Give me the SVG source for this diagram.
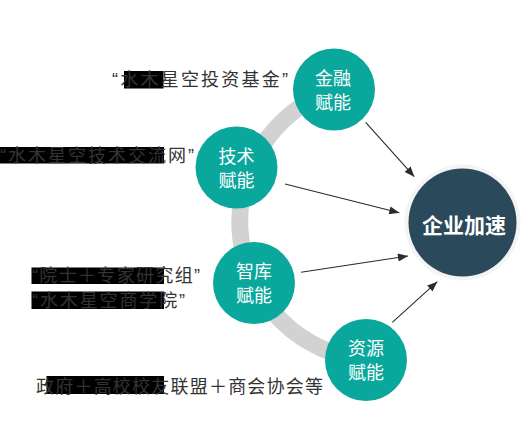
<svg xmlns="http://www.w3.org/2000/svg" width="528" height="446" viewBox="0 0 528 446">
<defs>
<style>
.lbl{font-family:"Liberation Sans","Noto Sans CJK SC",sans-serif;font-size:18px;fill:#333}
.node circle{fill:#0aa79d}
.node text{font-family:"Noto Sans CJK SC",sans-serif;font-size:18px;fill:#fff;text-anchor:middle}
.conn line{stroke:#2b2b2b;stroke-width:1.1;marker-end:url(#ah)}
.blk{fill:#000}
</style>
<marker id="ah" viewBox="0 0 10 8" refX="10" refY="4" markerWidth="11" markerHeight="8" markerUnits="userSpaceOnUse" orient="auto">
<path d="M0,0 L10,4 L0,8 Z" fill="#2b2b2b"/>
</marker>
</defs>
<rect width="528" height="446" fill="#fff"/>
<path d="M334,90 A139,139 0 0 0 366,360" fill="none" stroke="#d2d2d2" stroke-width="17"/>
<g id="labels">
<rect class="blk" x="124" y="71" width="39.5" height="17.5"/>
<text class="lbl" x="112" y="86" textLength="176" lengthAdjust="spacing">“水木星空投资基金”</text>
<rect class="blk" x="0" y="147" width="164" height="16.5"/>
<text class="lbl" x="0" y="162" textLength="194" lengthAdjust="spacing">“水木星空技术交流网”</text>
<rect class="blk" x="31.5" y="267.5" width="132.5" height="16.5"/>
<text class="lbl" x="32" y="282" textLength="168" lengthAdjust="spacing">“院士＋专家研究组”</text>
<rect class="blk" x="31.5" y="291.5" width="132.5" height="17.5"/>
<text class="lbl" x="32" y="307" textLength="153" lengthAdjust="spacing">“水木星空商学院”</text>
<rect class="blk" x="46.5" y="376" width="117.5" height="18"/>
<text class="lbl" x="36" y="393" textLength="287" lengthAdjust="spacing">政府＋高校校友联盟＋商会协会等</text>
</g>
<g class="conn" id="connectors">
<line x1="365.7" y1="122.3" x2="414.3" y2="176.7"/>
<line x1="285" y1="184" x2="399.3" y2="212.7"/>
<line x1="301" y1="272.3" x2="408" y2="256"/>
<line x1="392.3" y1="322.3" x2="437.3" y2="281.7"/>
</g>
<g class="node" id="n-jinrong"><circle cx="334" cy="89.5" r="41"/><text x="333" y="84.5">金融<tspan x="333" dy="24.5">赋能</tspan></text></g>
<g class="node" id="n-jishu"><circle cx="236.5" cy="167.5" r="41"/><text x="236.5" y="162.5">技术<tspan x="236.5" dy="24.5">赋能</tspan></text></g>
<g class="node" id="n-zhiku"><circle cx="254" cy="283" r="41"/><text x="254" y="277.5">智库<tspan x="254" dy="24.5">赋能</tspan></text></g>
<g class="node" id="n-ziyuan"><circle cx="366" cy="360" r="41"/><text x="366" y="354.5">资源<tspan x="366" dy="24.5">赋能</tspan></text></g>
<g id="n-qiye">
<circle cx="462.5" cy="222.5" r="58" fill="#f4f4f4"/>
<circle cx="462.5" cy="222.5" r="54" fill="#2a4a5c"/>
<text x="464" y="224" font-family="Noto Sans CJK SC,sans-serif" font-size="21" font-weight="bold" fill="#fff" text-anchor="middle" dominant-baseline="central">企业加速</text>
</g>
</svg>
